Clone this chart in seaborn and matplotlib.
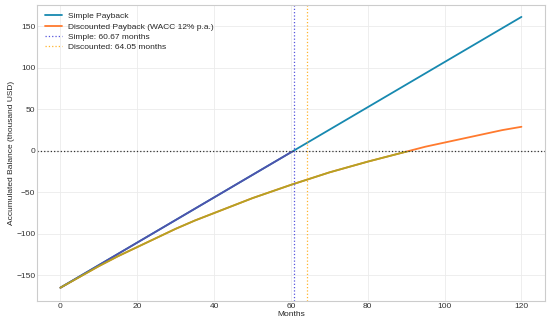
import numpy as np
import pandas as pd
import matplotlib
matplotlib.use("Agg")
import matplotlib.pyplot as plt
import seaborn as sns
from matplotlib.patches import Rectangle

# values (thousand USD)
months_simple = [0, 120]
simple_balance = [-165, 161.5]
months_disc = [0, 5, 10, 15, 20, 25, 30, 35, 40, 45, 50, 55, 60,
               65, 70, 75, 80, 85, 90, 95, 100, 105, 110, 115, 120]
disc_balance = [-165, -152, -139, -127, -116, -105, -94, -84, -75, -66, -57, -49, -41,
                -33.5, -26, -19.5, -13, -7, -1, 5, 10, 15, 20, 25, 29]
simple_payback = 60.67
disc_payback = 64.05

df_s = pd.DataFrame({"Months": months_simple, "Balance": simple_balance})
df_d = pd.DataFrame({"Months": months_disc, "Balance": disc_balance})

sns.set_style("whitegrid")
plt.rcParams["font.family"] = ["Liberation Sans", "DejaVu Sans"]
fig, ax = plt.subplots(figsize=(5.5, 3.25), dpi=100)

c_simple = "#1789b0"
c_disc = "#ff7a2e"
sns.lineplot(data=df_s, x="Months", y="Balance", ax=ax, color=c_simple, lw=1.3, label="Simple Payback")
sns.lineplot(data=df_d, x="Months", y="Balance", ax=ax, color=c_disc, lw=1.3,
             label="Discounted Payback (WACC 12% p.a.)")
# the part below zero is drawn in darker tones
neg1, = ax.plot(months_simple, simple_balance, color="#4f52ad", lw=1.3)
neg2, = ax.plot(months_disc, disc_balance, color="#b3a324", lw=1.3)
for ln in (neg1, neg2):
    ln.set_clip_path(Rectangle((-50, -1000), 300, 1000, transform=ax.transData))

ax.axhline(0, color="#333333", ls=":", lw=0.9)
ax.axvline(simple_payback, color="#5555dd", ls=":", lw=0.9, label=f"Simple: {simple_payback:.2f} months")
ax.axvline(disc_payback, color="#ffb52e", ls=":", lw=0.9, label=f"Discounted: {disc_payback:.2f} months")

ax.set_xlim(-6, 126)
ax.set_ylim(-181, 176)
ax.set_xticks([0, 20, 40, 60, 80, 100, 120])
ax.set_yticks([-150, -100, -50, 0, 50, 100, 150])
ax.tick_params(labelsize=6, colors="#333333", pad=1.5, length=0)
ax.set_xlabel("Months", fontsize=6, labelpad=1)
ax.set_ylabel("Accumulated Balance (thousand USD)", fontsize=6, labelpad=1)
ax.grid(color="#ebebeb", lw=0.6)
for s in ax.spines.values():
    s.set_color("#cccccc")
    s.set_linewidth(0.8)
ax.legend(loc="upper left", fontsize=6, frameon=False, handlelength=2, labelspacing=0.3)

fig.subplots_adjust(left=0.068, right=0.99, top=0.985, bottom=0.074)
fig.savefig("out.png", dpi=100)
